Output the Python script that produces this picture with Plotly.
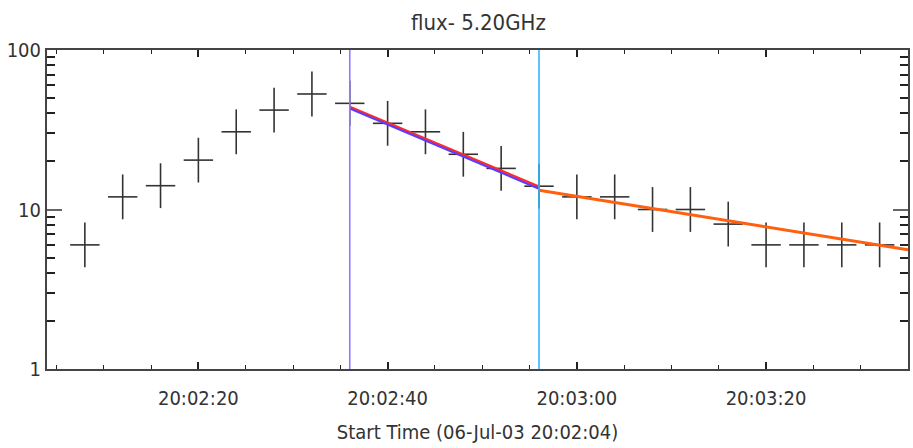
import plotly.graph_objects as go
import pandas as pd

# ---- data ----
day = "2003-07-06 "
obs_times = ["20:02:08", "20:02:12", "20:02:16", "20:02:20", "20:02:24", "20:02:28",
             "20:02:32", "20:02:36", "20:02:40", "20:02:44", "20:02:48", "20:02:52",
             "20:02:56", "20:03:00", "20:03:04", "20:03:08", "20:03:12", "20:03:16",
             "20:03:20", "20:03:24", "20:03:28", "20:03:32"]
flux = [6.0, 12.0, 14.1, 20.4, 30.7, 42.0, 53.0, 46.3, 34.7, 30.7, 22.2, 18.1,
        14.0, 12.0, 12.0, 10.0, 10.0, 8.1, 6.0, 6.0, 6.0, 6.0]

fit1_times = ["20:02:36", "20:02:56"]
fit1_red = [44.0, 13.9]
fit1_blue = [43.0, 13.5]
fit2_times = ["20:02:56", "20:03:35"]
fit2_vals = [13.2, 5.6]

vline_times = ["20:02:36", "20:02:56"]
vline_colors = ["#8a7cff", "#33b5ff"]

x_range = ["20:02:04", "20:03:35"]
y_decades = [1, 10, 100]
y_all_ticks = [1, 2, 3, 4, 5, 6, 7, 8, 9, 10, 20, 30, 40, 50, 60, 70, 80, 90, 100]

title_text = "flux- 5.20GHz"
xtitle_text = "Start Time (06-Jul-03 20:02:04)"

def ts(lst):
    return [pd.Timestamp(day + t) for t in lst]

FONT = "DejaVu Sans Condensed, DejaVu Sans, sans-serif"
INK = "#333333"
TICK = "#222222"

fig = go.Figure()

# crosses: vertical and horizontal parts
fig.add_trace(go.Scatter(x=ts(obs_times), y=flux, mode="markers",
                         marker=dict(symbol="line-ns", size=32,
                                     line=dict(width=1.6, color=INK)),
                         hoverinfo="skip", showlegend=False))
fig.add_trace(go.Scatter(x=ts(obs_times), y=flux, mode="markers",
                         marker=dict(symbol="line-ew", size=21,
                                     line=dict(width=1.6, color=INK)),
                         showlegend=False))
# fit lines
fig.add_trace(go.Scatter(x=ts(fit1_times), y=fit1_red, mode="lines",
                         line=dict(color="#ff2a2a", width=2.5), showlegend=False))
fig.add_trace(go.Scatter(x=ts(fit1_times), y=fit1_blue, mode="lines",
                         line=dict(color="#5a3cff", width=2), showlegend=False))
fig.add_trace(go.Scatter(x=ts(fit2_times), y=fit2_vals, mode="lines",
                         line=dict(color="#ff6010", width=3), showlegend=False))
# invisible trace carrying the decade-tick overlay axis
fig.add_trace(go.Scatter(x=ts(x_range), y=[y_decades[0], y_decades[-1]], yaxis="y2",
                         mode="markers", marker=dict(opacity=0), hoverinfo="skip",
                         showlegend=False))

for t, c in zip(vline_times, vline_colors):
    fig.add_shape(type="line", x0=pd.Timestamp(day + t), x1=pd.Timestamp(day + t),
                  y0=0, y1=1, yref="paper", xref="x",
                  line=dict(color=c, width=1.6), layer="above")

fig.update_layout(
    width=913, height=448,
    margin=dict(l=47, r=3, t=50, b=79),
    paper_bgcolor="white", plot_bgcolor="white",
    title=dict(text=title_text, x=0.524, xanchor="center", y=0.95, yanchor="middle",
               font=dict(family=FONT, size=22, color=INK)),
    font=dict(family=FONT, color=INK),
)

fig.update_xaxes(
    type="date",
    range=ts(x_range),
    tick0=pd.Timestamp(day + "20:02:00"), dtick=20000, tickformat="%H:%M:%S",
    ticks="inside", ticklen=7, tickwidth=1.5, tickcolor=TICK,
    minor=dict(ticks="inside", ticklen=4, dtick=5000, tickcolor=TICK, tickwidth=1.2),
    showline=True, linewidth=2, linecolor="#444444", mirror="ticks",
    showgrid=False, zeroline=False,
    ticklabelstandoff=10,
    tickfont=dict(family=FONT, size=20, color=INK),
    title=dict(text=xtitle_text, font=dict(family=FONT, size=20, color=INK), standoff=16),
)

fig.update_layout(
    yaxis=dict(
        type="log", range=[0, 2],
        tickmode="array", tickvals=y_all_ticks,
        ticktext=[str(v) if v in y_decades else "" for v in y_all_ticks],
        ticks="inside", ticklen=8, tickwidth=2, tickcolor=TICK,
        showline=True, linewidth=2, linecolor="#444444", mirror="ticks",
        showgrid=False,
        tickfont=dict(family=FONT, size=20, color=INK),
    ),
    yaxis2=dict(
        type="log", range=[0, 2], overlaying="y", side="left",
        tickmode="array", tickvals=y_decades, showticklabels=False,
        ticks="inside", ticklen=15, tickwidth=2, tickcolor="#666666",
        showline=True, linewidth=2, linecolor="#444444", mirror="ticks",
        showgrid=False,
    ),
)

fig.write_html("out.html")
